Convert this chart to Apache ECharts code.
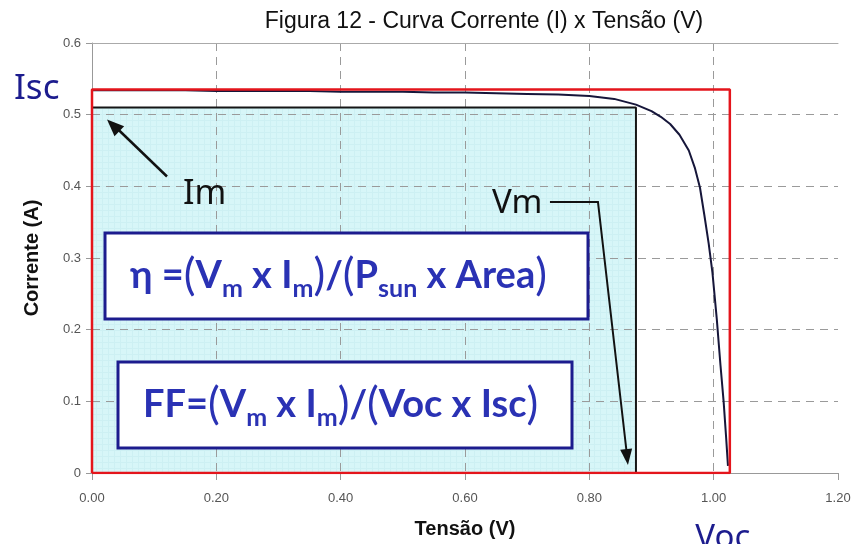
<!DOCTYPE html>
<html>
<head>
<meta charset="utf-8">
<script src="https://cdn.jsdelivr.net/npm/echarts@6/dist/echarts.min.js"></script>
<style>
  html, body { margin: 0; padding: 0; background: #ffffff; }
  #chart { width: 856px; height: 544px; }
</style>
</head>
<body>
<div id="chart"></div>
<script>
// I-V curve of a solar cell
const titleText = 'Figura 12 - Curva Corrente (I) x Tensão (V)';
const xAxisName = 'Tensão (V)';
const yAxisName = 'Corrente (A)';

// Measured curve (voltage in V, current in A)
const voltage = [0.00, 0.05, 0.10, 0.15, 0.20, 0.25, 0.30, 0.35, 0.40, 0.45, 0.50, 0.55, 0.60, 0.65, 0.70, 0.75, 0.80, 0.84, 0.875, 0.90, 0.915, 0.93, 0.945, 0.96, 0.97, 0.978, 0.985, 0.992, 0.998, 1.005, 1.011, 1.016, 1.020, 1.023];
const current = [0.534, 0.534, 0.534, 0.534, 0.533, 0.533, 0.533, 0.533, 0.532, 0.532, 0.532, 0.531, 0.531, 0.530, 0.529, 0.528, 0.526, 0.522, 0.514, 0.505, 0.497, 0.487, 0.472, 0.450, 0.425, 0.398, 0.360, 0.320, 0.280, 0.215, 0.150, 0.100, 0.050, 0.010];

// Characteristic points
const Isc = 0.535;  // short-circuit current
const Voc = 1.026;  // open-circuit voltage
const Vm = 0.875;   // voltage at max power
const Im = 0.51;    // current at max power

// Axis ranges and ticks
const xMin = 0, xMax = 1.2, xStep = 0.2;
const yMin = 0, yMax = 0.6, yStep = 0.1;

const font = 'Liberation Sans, Arial, sans-serif';
const navy = '#1c1c8e';
const formulaBlue = '#2a32b4';

// light cyan graph-paper tile for the max-power rectangle
const tile = document.createElement('canvas');
tile.width = 6; tile.height = 6;
const tctx = tile.getContext('2d');
tctx.fillStyle = '#d7f6f8';
tctx.fillRect(0, 0, 6, 6);
tctx.fillStyle = '#cdf0f3';
tctx.fillRect(0, 0, 6, 1);
tctx.fillRect(0, 0, 1, 6);

const chart = echarts.init(document.getElementById('chart'), null, { renderer: 'canvas' });

const curveData = voltage.map((v, i) => [v, current[i]]);

chart.setOption({
  animation: false,
  backgroundColor: '#ffffff',
  title: {
    text: titleText,
    left: 479, top: 5, textAlign: 'center',
    textStyle: { fontFamily: font, fontSize: 23, fontWeight: 'normal', color: '#111' }
  },
  grid: { left: 92, right: 18, top: 43, bottom: 69 },
  xAxis: [{
    type: 'value', min: xMin, max: xMax, interval: xStep,
    name: xAxisName, nameLocation: 'middle', nameGap: 46,
    nameTextStyle: { fontFamily: font, fontSize: 20, fontWeight: 'bold', color: '#111' },
    axisLine: { show: true, lineStyle: { color: '#999', width: 1 } },
    axisTick: { show: true, length: 7, lineStyle: { color: '#999' } },
    axisLabel: { fontFamily: font, fontSize: 13, color: '#555', margin: 19, formatter: v => v.toFixed(2) },
    splitLine: { show: true, showMinLine: false, showMaxLine: false, lineStyle: { color: '#9a9a9a', type: [8, 6], width: 1 } }
  }, {
    type: 'value', position: 'top', min: xMin, max: xMax, interval: xStep,
    axisLine: { show: true, lineStyle: { color: '#aaa', width: 1 } },
    axisTick: { show: false }, axisLabel: { show: false }, splitLine: { show: false }
  }],
  yAxis: {
    type: 'value', min: yMin, max: yMax, interval: yStep,
    name: yAxisName, nameLocation: 'middle', nameGap: 50,
    nameTextStyle: { fontFamily: font, fontSize: 20, fontWeight: 'bold', color: '#111' },
    axisLine: { show: true, lineStyle: { color: '#999', width: 1 } },
    axisTick: { show: true, length: 6, lineStyle: { color: '#999' } },
    axisLabel: { fontFamily: font, fontSize: 13, color: '#555', margin: 11, formatter: v => (v === 0 ? '0' : v.toFixed(1)) },
    splitLine: { show: true, showMinLine: false, showMaxLine: false, lineStyle: { color: '#9a9a9a', type: [8, 6], width: 1 } }
  },
  series: [
    {
      // shaded Vm x Im area (beneath the grid lines)
      type: 'line', z: -1, silent: true, symbol: 'none',
      data: [[0, Im], [Vm, Im]],
      lineStyle: { width: 0 },
      areaStyle: { color: { image: tile, repeat: 'repeat' }, opacity: 1 }
    },
    {
      // max-power rectangle outline
      type: 'line', z: 3, silent: true, symbol: 'none',
      data: [[0, Im], [Vm, Im], [Vm, 0]],
      lineStyle: { color: '#161616', width: 2 }
    },
    {
      // I-V curve
      type: 'line', z: 4, silent: true, symbol: 'none',
      data: curveData,
      lineStyle: { color: '#16163a', width: 2 }
    },
    {
      // Voc x Isc rectangle
      type: 'line', z: 5, silent: true, symbol: 'none',
      data: [[0, 0], [0, Isc], [Voc, Isc], [Voc, 0], [0, 0]],
      lineStyle: { color: '#e4151c', width: 2.5 }
    }
  ]
});

function arrowHead(tip, from, len, half, color) {
  const dx = tip[0] - from[0], dy = tip[1] - from[1];
  const d = Math.sqrt(dx * dx + dy * dy);
  const ux = dx / d, uy = dy / d;
  const bx = tip[0] - ux * len, by = tip[1] - uy * len;
  return {
    type: 'polygon', silent: true, z: 20,
    shape: { points: [tip, [bx - uy * half, by + ux * half], [bx + uy * half, by - ux * half]] },
    style: { fill: color }
  };
}

const pIsc = chart.convertToPixel({ gridIndex: 0 }, [0, Isc]);
const pVoc = chart.convertToPixel({ gridIndex: 0 }, [Voc, 0]);
const pIm = chart.convertToPixel({ gridIndex: 0 }, [0, Im]);
const pVm = chart.convertToPixel({ gridIndex: 0 }, [Vm, 0]);

// arrow pointing at Im corner
const imTip = [pIm[0] + 15, pIm[1] + 12];
const imFrom = [pIm[0] + 75, pIm[1] + 69];
// leader from the Vm label down to the Vm corner
const vmTip = [pVm[0] - 8, pVm[1] - 8];
const vmElbow = [pVm[0] - 38, pVm[1] - 271];
const vmStart = [pVm[0] - 86, pVm[1] - 271];

const box1 = { x: 105, y: 233, w: 483, h: 86 };
const box2 = { x: 118, y: 362, w: 454, h: 86 };

function rich(size, subSize) {
  return {
    t: { fontFamily: 'Lato, sans-serif', fontWeight: 'bold', fontSize: size, fill: formulaBlue, lineHeight: size + 12, verticalAlign: 'middle' },
    p: { fontFamily: 'Lato, sans-serif', fontWeight: 'normal', fontSize: size + 6, fill: formulaBlue, lineHeight: size + 12, verticalAlign: 'middle' },
    s: { fontFamily: 'Lato, sans-serif', fontWeight: 'bold', fontSize: subSize, fill: formulaBlue, lineHeight: size + 12, verticalAlign: 'bottom' }
  };
}

chart.setOption({
  graphic: [
    { type: 'text', silent: true, z: 20, x: 14, y: pIsc[1] - 1,
      style: { text: 'Isc', font: 'normal 35px "Noto Sans", sans-serif', fill: navy, textAlign: 'left', textVerticalAlign: 'middle' } },
    { type: 'text', silent: true, z: 20, x: pVoc[0] - 7, y: pVoc[1] + 49,
      style: { text: 'Voc', font: 'normal 33px "Noto Sans", sans-serif', fill: navy, textAlign: 'center', textVerticalAlign: 'top' } },
    { type: 'text', silent: true, z: 20, x: 183, y: 194,
      style: { text: 'Im', font: 'normal 34px "Noto Sans", sans-serif', fill: '#111', textAlign: 'left', textVerticalAlign: 'middle' } },
    { type: 'text', silent: true, z: 20, x: 492, y: 204,
      style: { text: 'Vm', font: 'normal 33px "Noto Sans", sans-serif', fill: '#111', textAlign: 'left', textVerticalAlign: 'middle' } },
    { type: 'line', silent: true, z: 20, shape: { x1: imFrom[0], y1: imFrom[1], x2: imTip[0] + 6, y2: imTip[1] + 5 }, style: { stroke: '#111', lineWidth: 2.5 } },
    arrowHead(imTip, imFrom, 17, 7, '#111'),
    { type: 'polyline', silent: true, z: 20, shape: { points: [vmStart, vmElbow, [vmTip[0] - 1, vmTip[1] - 10]] }, style: { stroke: '#111', lineWidth: 2, fill: null } },
    arrowHead(vmTip, vmElbow, 16, 6, '#111'),
    { type: 'rect', silent: true, z: 15, shape: { x: box1.x, y: box1.y, width: box1.w, height: box1.h }, style: { fill: '#ffffff', stroke: navy, lineWidth: 3 } },
    { type: 'rect', silent: true, z: 15, shape: { x: box2.x, y: box2.y, width: box2.w, height: box2.h }, style: { fill: '#ffffff', stroke: navy, lineWidth: 3 } },
    { type: 'text', silent: true, z: 21, x: 130, y: box1.y + box1.h / 2,
      style: { text: '{t|η =}{p|(}{t|V}{s|m}{t| x I}{s|m}{p|)}{t|/}{p|(}{t|P}{s|sun}{t| x Area}{p|)}', rich: rich(38, 25), textAlign: 'left', textVerticalAlign: 'middle' } },
    { type: 'text', silent: true, z: 21, x: 143, y: box2.y + box2.h / 2,
      style: { text: '{t|FF=}{p|(}{t|V}{s|m}{t| x I}{s|m}{p|)}{t|/}{p|(}{t|Voc x Isc}{p|)}', rich: rich(38, 25), textAlign: 'left', textVerticalAlign: 'middle' } }
  ]
});
</script>
</body>
</html>
